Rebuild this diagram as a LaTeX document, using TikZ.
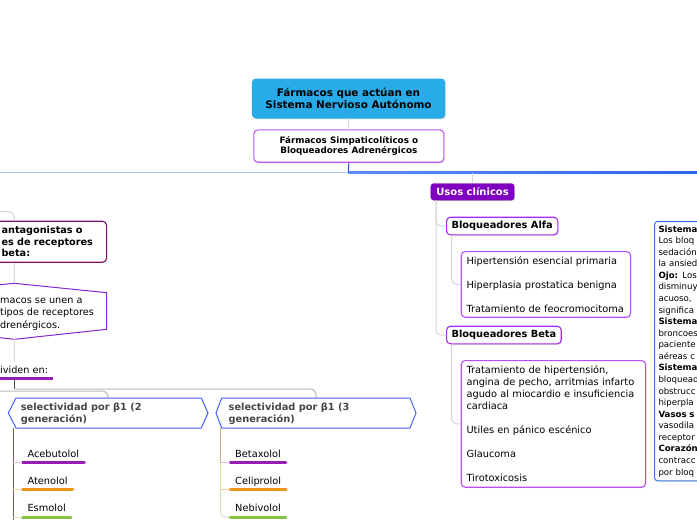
\documentclass[tikz,border=0pt]{standalone}
\usepackage{fontspec}
\setmainfont{DejaVu Sans}
\usetikzlibrary{calc,shadows}
\definecolor{rootblue}{RGB}{41,171,232}
\definecolor{simpviolet}{RGB}{192,84,242}
\definecolor{hubblue}{RGB}{40,80,225}
\definecolor{linelight}{RGB}{170,198,252}
\definecolor{lineA}{RGB}{90,140,245}
\definecolor{lineB}{RGB}{45,100,240}
\definecolor{conngray}{RGB}{212,212,212}
\definecolor{conngray2}{RGB}{185,185,185}
\definecolor{usospurple}{RGB}{128,0,192}
\definecolor{boxpurple}{RGB}{168,40,240}
\definecolor{listpurple}{RGB}{185,80,245}
\definecolor{lboxpurple}{RGB}{120,20,110}
\definecolor{hexlpurple}{RGB}{135,40,205}
\definecolor{hexblue}{RGB}{70,95,250}
\definecolor{hextext}{RGB}{70,70,70}
\definecolor{rboxblue}{RGB}{55,115,220}
\definecolor{ulpurple}{RGB}{150,30,180}
\definecolor{ulorange}{RGB}{240,150,30}
\definecolor{ulgreen}{RGB}{130,195,65}
\definecolor{lpurple}{RGB}{225,185,235}
\definecolor{lorange}{RGB}{245,205,150}
\definecolor{lgreen}{RGB}{205,230,180}
\definecolor{stemdark}{RGB}{110,100,80}
\definecolor{stemtan}{RGB}{205,175,125}
\definecolor{stemyellow}{RGB}{225,225,150}
\begin{document}
\begin{tikzpicture}[x=1pt,y=-1pt,
  conn/.style={draw=conngray, line width=1pt},
  conntwo/.style={draw=conngray2, line width=1pt},
  softshadow/.style={drop shadow={shadow xshift=0.8pt, shadow yshift=-0.9pt, opacity=0.12, fill=black}},
  boxed/.style={draw, fill=white, rounded corners=4pt, line width=1.1pt, inner sep=0pt, softshadow},
  reg/.style={font=\fontsize{9.8}{12}\selectfont},
  bld/.style={font=\fontsize{9.8}{12}\selectfont\bfseries},
  item/.style={reg, inner sep=0pt, anchor=base west},
  uline/.style={line width=3pt, line cap=round},
  hexshape/.style={draw=hexblue, line width=1pt, fill=white}
]
\useasboundingbox (0,0) rectangle (697,520);
\clip (0,0) rectangle (697,520);

% root and first child
\node[fill=rootblue, rounded corners=4pt, minimum width=193.3pt, minimum height=40pt, align=center, inner sep=0pt,
      font=\fontsize{10.4}{12.5}\selectfont\bfseries, anchor=north west, softshadow] (root) at (251.7,78.3)
      {Fármacos que actúan en\\Sistema Nervioso Autónomo};
\node[boxed, draw=simpviolet, minimum width=190pt, minimum height=32.4pt, align=center,
      font=\fontsize{8.8}{10.2}\selectfont\bfseries, anchor=north west] (simp) at (253.3,129.3)
      {Fármacos Simpaticolíticos o\\Bloqueadores Adrenérgicos};
\draw[conn] (root.south) -- (simp.north);
\coordinate (hub) at (348.3,172.5);
\draw[line width=1.8pt, linelight] (0,172.5) -- (hub);
\shade[left color=lineA, right color=lineB] (348.3,171.6) rectangle (697,173.4);
\draw[draw=hubblue, line width=1pt] (simp.south) -- (hub);

% Usos clinicos branch
\node[fill=usospurple, draw=usospurple!85!black, rounded corners=3pt, minimum width=83.3pt, minimum height=16.7pt,
      inner sep=0pt, text=white, font=\fontsize{10}{12}\selectfont\bfseries, anchor=north west, softshadow] (usos) at (430.7,183.3) {Usos clínicos};
\draw[conn, rounded corners=3pt] (hub -| usos.north) -- (usos.north);
\node[boxed, draw=boxpurple, minimum width=111.3pt, minimum height=17.6pt, bld, anchor=north west] (alfa) at (446,216.7) {Bloqueadores Alfa};
\node[boxed, draw=boxpurple, minimum width=114.7pt, minimum height=17.6pt, bld, anchor=north west] (beta) at (446,325.7) {Bloqueadores Beta};
\coordinate (ustem) at ($(usos.south west)+(5.3,0)$);
\draw[conn, rounded corners=5pt] (ustem) |- (alfa.west);
\draw[conn, rounded corners=5pt] (ustem) |- (beta.west);
\node[boxed, draw=listpurple, minimum width=169.3pt, minimum height=65.7pt, text width=158.7pt, inner xsep=5.3pt,
      align=left, reg, anchor=north west] (alist) at (460.7,251)
      {Hipertensión esencial primaria\\[12pt]Hiperplasia prostatica benigna\\[12pt]Tratamiento de feocromocitoma};
\draw[conn, rounded corners=5pt] ($(alfa.south west)+(5.7,0)$) |- (alist.west);
\node[boxed, draw=listpurple, minimum width=184.3pt, minimum height=126.7pt, text width=173.7pt, inner xsep=5.3pt,
      align=left, reg, anchor=north west] (blist) at (460.7,360)
      {Tratamiento de hipertensión,\\angina de pecho, arritmias infarto\\agudo al miocardio e insuficiencia\\cardiaca\\[12pt]Utiles en pánico escénico\\[12pt]Glaucoma\\[12pt]Tirotoxicosis};
\draw[conn, rounded corners=5pt] ($(beta.south west)+(5.7,0)$) |- (blist.west);

% right box (cut by the edge)
\node[draw=rboxblue, line width=1pt, fill=white, rounded corners=3pt, anchor=north west, inner xsep=4pt, inner ysep=4pt,
      text width=110pt, align=left, font=\fontsize{8.6}{11.57}\selectfont, softshadow] (sist) at (654,221)
      {\textbf{Sistema}\\Los bloq\\sedación\\la ansied\\\textbf{Ojo:} Los\\disminuy\\acuoso,\\significa\\\textbf{Sistema}\\broncoes\\paciente\\aéreas c\\\textbf{Sistema}\\bloquead\\obstrucc\\hiperpla\\\textbf{Vasos s}\\vasodila\\receptor\\\textbf{Corazón}\\contracc\\por bloq};

% left branch
\node[boxed, draw=lboxpurple, anchor=north west, minimum width=114pt, minimum height=41pt, text width=96pt, inner xsep=9pt,
      align=left, font=\fontsize{9.7}{11.5}\selectfont\bfseries] (lbox) at (-8,220.7)
      {antagonistas o\\es de receptores\\beta:};
\coordinate (lfeed) at (0,211.7);
\draw[conn, rounded corners=5pt] (lfeed) -| ($(lbox.north west)+(22.3,0)$);
\coordinate (hexLtop) at (14.3,283.3);
\coordinate (hexLbot) at (14.3,339.3);
\draw[draw=hexlpurple, line width=1pt, fill=white] (-77,292.7) -- (hexLtop) -- (106.7,292.7) -- (106.7,329.3) -- (hexLbot) -- (-77,329.3) -- cycle;
\draw[conn] ($(lbox.south west)+(22.3,0)$) -- (hexLtop);
\node[anchor=north west, inner sep=0pt, align=left, font=\fontsize{9.7}{12.3}\selectfont] (hexL) at (0,294.7)
      {\strut macos se unen a\\tipos de receptores\\drenérgicos.};
\node[anchor=base west, inner sep=0pt, font=\fontsize{9.7}{12}\selectfont] (div) at (0,373.3) {ividen en:};
\draw[conn] (hexLbot) -- ($(div.north -| hexLbot)+(0,-4)$);
\draw[uline, draw=ulpurple, line cap=butt] (0,378.7) -- ($(div.base east)+(5,5.4)$);
\coordinate (divstem) at (14.3,389);
\draw[draw=black!70, line width=1pt] (14.3,378.7) -- (divstem);

% selectivity hexagons
\coordinate (h1top) at (108,398);
\coordinate (h2top) at (316,398);
\coordinate (h1bot) at (13.3,428);
\coordinate (h2bot) at (220.7,428);
\draw[conntwo, rounded corners=6pt] (0,391) -| (h1top);
\draw[conntwo, rounded corners=6pt] (divstem) -| (h2top);
\draw[hexshape] (8.3,413) -- (16,398) -- (h1top) -- (201.3,398) -- (208,413) -- (201.3,428) -- (16,428) -- cycle;
\draw[hexshape] (216,413) -- (221.7,398) -- (h2top) -- (410,398) -- (416,413) -- (410,428) -- (221.7,428) -- cycle;
\node[anchor=north west, inner sep=0pt, align=left, text=hextext, bld] (h1) at (20.7,402.3) {\strut selectividad por β1 (2\\generación)};
\node[anchor=north west, inner sep=0pt, align=left, text=hextext, bld] (h2) at (228.5,402.3) {\strut selectividad por β1 (3\\generación)};

% items
\node[item] (ace) at (27.3,457.3) {Acebutolol};
\node[item] (ate) at (27.3,484.5) {Atenolol};
\node[item] (esm) at (27.3,511.7) {Esmolol};
\node[item] (bet) at (235,457.3) {Betaxolol};
\node[item] (cel) at (235,484.5) {Celiprolol};
\node[item] (neb) at (235,511.7) {Nebivolol};
\foreach \n/\c in {ace/ulpurple,ate/ulorange,esm/ulgreen,bet/ulpurple,cel/ulorange,neb/ulgreen}{
  \coordinate (\n U) at ($(\n.base west)+(-5,5.4)$);
  \draw[uline, draw=\c] (\n U) -- ($(\n.base east)+(5,5.4)$);
}
% stems
\draw[draw=stemdark, line width=1pt] (h1bot) -- (13.3,521);
\draw[draw=lpurple, line width=1pt] (aceU -| h1bot) -- (aceU);
\draw[draw=lorange, line width=1pt] (ateU -| h1bot) -- (ateU);
\draw[draw=lgreen, line width=1pt] (esmU -| h1bot) -- (esmU);
\draw[draw=stemtan, line width=1pt] (h2bot) -- (betU -| h2bot);
\draw[draw=lpurple, line width=1pt] (betU -| h2bot) -- (betU);
\draw[draw=stemyellow, line width=1pt] (betU -| h2bot) -- (celU -| h2bot);
\draw[draw=lorange, line width=1pt] (celU -| h2bot) -- (celU);
\draw[draw=lgreen, line width=1pt, rounded corners=4pt] (celU -| h2bot) -- (nebU -| h2bot) -- (nebU);
\end{tikzpicture}
\end{document}
